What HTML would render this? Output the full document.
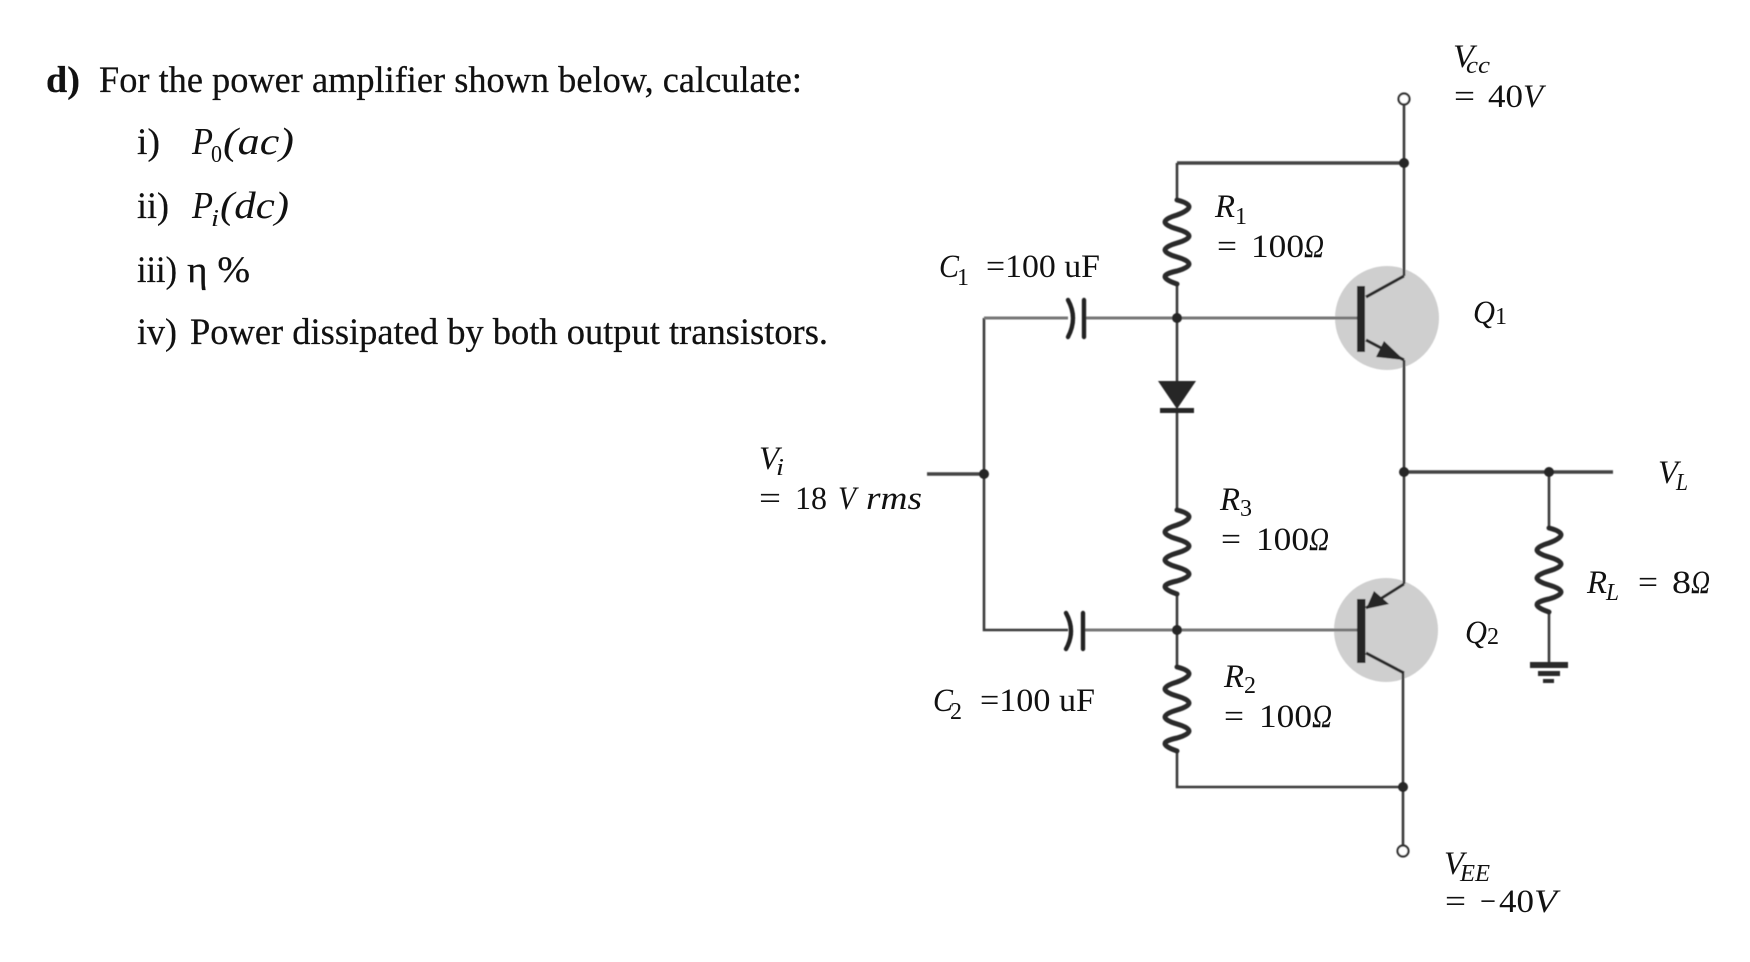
<!DOCTYPE html>
<html><head><meta charset="utf-8"><title>Power amplifier</title>
<style>
html,body{margin:0;padding:0;background:#fff}
svg{display:block}
text{font-family:"Liberation Serif",serif;fill:#111}
.t{font-size:37px;stroke:#111;stroke-width:.25}
.mm{font-size:38px;font-style:italic}
.m{font-size:33px;font-style:italic}
.n{font-size:33px}
.s{font-size:24px;font-style:italic}
.d{font-size:24px}
.w{fill:none;stroke:#3a3a3a;stroke-width:2.6}
.th{fill:none;stroke:#444;stroke-width:3.4}
</style></head>
<body>
<svg width="1750" height="962" viewBox="0 0 1750 962" xmlns="http://www.w3.org/2000/svg">
<defs>
<filter id="b"><feGaussianBlur stdDeviation="0.45"/></filter>
<path id="res" d="M0 0 Q24 6 0 15 Q-24 22 0 29 Q24 36 0 43 Q-24 50 0 57 Q24 64 0 71 Q-24 76 0 84" fill="none" stroke="#2a2a2a" stroke-width="5" stroke-linecap="round" stroke-linejoin="round"/>
</defs>

<!-- question text -->
<text x="46" y="92" class="t" font-weight="bold" textLength="34" lengthAdjust="spacingAndGlyphs">d)</text>
<text x="99" y="92" class="t" textLength="703" lengthAdjust="spacingAndGlyphs">For the power amplifier shown below, calculate:</text>
<text x="137" y="154" class="t" textLength="23" lengthAdjust="spacingAndGlyphs">i)</text>
<text x="192" y="154" class="mm" textLength="21" lengthAdjust="spacingAndGlyphs">P</text>
<text x="211" y="162" class="d" textLength="11" lengthAdjust="spacingAndGlyphs">0</text>
<text x="223" y="154" class="mm" textLength="71" lengthAdjust="spacingAndGlyphs">(ac)</text>
<text x="137" y="218" class="t" textLength="32" lengthAdjust="spacingAndGlyphs">ii)</text>
<text x="192" y="218" class="mm" textLength="21" lengthAdjust="spacingAndGlyphs">P</text>
<text x="211" y="226" class="s" textLength="8" lengthAdjust="spacingAndGlyphs">i</text>
<text x="220" y="218" class="mm" textLength="69" lengthAdjust="spacingAndGlyphs">(dc)</text>
<text x="137" y="282" class="t" textLength="40" lengthAdjust="spacingAndGlyphs">iii)</text>
<text x="187" y="282" class="t" textLength="63" lengthAdjust="spacingAndGlyphs">η %</text>
<text x="137" y="344" class="t" textLength="40" lengthAdjust="spacingAndGlyphs">iv)</text>
<text x="190" y="344" class="t" textLength="638" lengthAdjust="spacingAndGlyphs">Power dissipated by both output transistors.</text>

<!-- circuit -->
<g filter="url(#b)">
<ellipse cx="1387" cy="318" rx="52" ry="52" fill="#cfcfcf"/>
<ellipse cx="1386" cy="630" rx="52" ry="52" fill="#cfcfcf"/>

<!-- rails -->
<circle cx="1404" cy="99" r="5.5" fill="#fff" stroke="#333" stroke-width="2.2"/>
<path class="w" d="M1404 105V276M1404 360V584M1403 673V845"/>
<circle cx="1403" cy="851" r="5.5" fill="#fff" stroke="#333" stroke-width="2.2"/>
<path class="th" d="M1177 163H1404M1404 472H1613"/>
<path class="w" d="M1177 163V200M1177 282V381M1177 413V510M1177 594V667M1177 751V787H1403"/>
<path class="w" d="M1549 472V528M1549 612V662"/>
<path class="th" d="M927 474H984"/>
<path class="w" d="M984 318V630H1068"/>
<path d="M984 318H1068M1086 318H1358M1084 630H1358" fill="none" stroke="#777" stroke-width="3"/>

<!-- capacitors -->
<g fill="none" stroke="#222" stroke-width="4.4" stroke-linecap="round">
<path d="M1068 300Q1078 318 1068 337M1084 300V337"/>
<path d="M1066 613Q1076 631 1066 649M1083 613V649"/>
</g>

<!-- resistors -->
<use href="#res" x="1177" y="200"/>
<use href="#res" x="1177" y="510"/>
<use href="#res" x="1177" y="667"/>
<use href="#res" x="1549" y="528"/>

<!-- diode -->
<polygon points="1158,381 1196,381 1177,409" fill="#262626"/>
<rect x="1160" y="408" width="34" height="5" fill="#262626"/>

<!-- Q1 -->
<rect x="1357" y="286" width="8" height="66" fill="#262626"/>
<path d="M1366 297L1404 276M1366 340L1404 360" fill="none" stroke="#2a2a2a" stroke-width="3"/>
<polygon points="1404,360 1384,341 1376,357" fill="#262626"/>
<!-- Q2 -->
<rect x="1357" y="599" width="8.5" height="64" fill="#262626"/>
<path d="M1366 608L1404 584M1366 653L1404 673" fill="none" stroke="#2a2a2a" stroke-width="3"/>
<polygon points="1366,609 1374,591 1389,604" fill="#262626"/>

<!-- ground -->
<rect x="1530" y="662" width="38" height="6" fill="#2a2a2a"/>
<rect x="1538" y="671" width="22" height="5" fill="#2a2a2a"/>
<rect x="1543" y="679" width="11" height="4" fill="#2a2a2a"/>

<!-- junctions -->
<g fill="#262626">
<circle cx="1404" cy="163" r="5"/>
<circle cx="1177" cy="318" r="5"/>
<circle cx="984" cy="474" r="5"/>
<circle cx="1404" cy="472" r="5"/>
<circle cx="1549" cy="472" r="5"/>
<circle cx="1177" cy="630" r="5"/>
<circle cx="1403" cy="787" r="5"/>
</g>
</g>

<!-- labels -->
<text x="1453" y="67" class="m" textLength="21" lengthAdjust="spacingAndGlyphs">V</text>
<text x="1466" y="73" class="s" textLength="24" lengthAdjust="spacingAndGlyphs">cc</text>
<text x="1454" y="107" class="n" textLength="21" lengthAdjust="spacingAndGlyphs">=</text>
<text x="1488" y="107" class="n" textLength="35" lengthAdjust="spacingAndGlyphs">40</text>
<text x="1523" y="107" class="m" textLength="20" lengthAdjust="spacingAndGlyphs">V</text>

<text x="1215" y="217" class="m" textLength="20" lengthAdjust="spacingAndGlyphs">R</text>
<text x="1235" y="224" class="d" textLength="12" lengthAdjust="spacingAndGlyphs">1</text>
<text x="1217" y="257" class="n" textLength="20" lengthAdjust="spacingAndGlyphs">=</text>
<text x="1251" y="257" class="n" textLength="53" lengthAdjust="spacingAndGlyphs">100</text>
<text x="1304" y="257" class="m" textLength="20" lengthAdjust="spacingAndGlyphs">Ω</text>

<text x="939" y="277" class="m" textLength="20" lengthAdjust="spacingAndGlyphs">C</text>
<text x="957" y="285" class="d" textLength="12" lengthAdjust="spacingAndGlyphs">1</text>
<text x="986" y="277" class="n" textLength="114" lengthAdjust="spacingAndGlyphs">=100 uF</text>

<text x="1473" y="323" class="m" textLength="22" lengthAdjust="spacingAndGlyphs">Q</text>
<text x="1495" y="324" class="d" textLength="12" lengthAdjust="spacingAndGlyphs">1</text>

<text x="759" y="469" class="m" textLength="20" lengthAdjust="spacingAndGlyphs">V</text>
<text x="776" y="475" class="s" textLength="8" lengthAdjust="spacingAndGlyphs">i</text>
<text x="759" y="509" class="n" textLength="22" lengthAdjust="spacingAndGlyphs">=</text>
<text x="795" y="509" class="n" textLength="32" lengthAdjust="spacingAndGlyphs">18</text>
<text x="838" y="509" class="m" textLength="18" lengthAdjust="spacingAndGlyphs">V</text>
<text x="866" y="509" class="m" textLength="56" lengthAdjust="spacingAndGlyphs">rms</text>

<text x="1658" y="483" class="m" textLength="20" lengthAdjust="spacingAndGlyphs">V</text>
<text x="1676" y="490" class="s" textLength="12" lengthAdjust="spacingAndGlyphs">L</text>

<text x="1220" y="510" class="m" textLength="20" lengthAdjust="spacingAndGlyphs">R</text>
<text x="1240" y="516" class="d" textLength="12" lengthAdjust="spacingAndGlyphs">3</text>
<text x="1221" y="550" class="n" textLength="20" lengthAdjust="spacingAndGlyphs">=</text>
<text x="1256" y="550" class="n" textLength="53" lengthAdjust="spacingAndGlyphs">100</text>
<text x="1309" y="550" class="m" textLength="20" lengthAdjust="spacingAndGlyphs">Ω</text>

<text x="1587" y="593" class="m" textLength="20" lengthAdjust="spacingAndGlyphs">R</text>
<text x="1606" y="600" class="s" textLength="13" lengthAdjust="spacingAndGlyphs">L</text>
<text x="1638" y="593" class="n" textLength="20" lengthAdjust="spacingAndGlyphs">=</text>
<text x="1672" y="593" class="n" textLength="19" lengthAdjust="spacingAndGlyphs">8</text>
<text x="1691" y="593" class="m" textLength="19" lengthAdjust="spacingAndGlyphs">Ω</text>

<text x="1465" y="643" class="m" textLength="22" lengthAdjust="spacingAndGlyphs">Q</text>
<text x="1487" y="644" class="d" textLength="12" lengthAdjust="spacingAndGlyphs">2</text>

<text x="1224" y="687" class="m" textLength="20" lengthAdjust="spacingAndGlyphs">R</text>
<text x="1244" y="693" class="d" textLength="12" lengthAdjust="spacingAndGlyphs">2</text>
<text x="1224" y="727" class="n" textLength="20" lengthAdjust="spacingAndGlyphs">=</text>
<text x="1259" y="727" class="n" textLength="53" lengthAdjust="spacingAndGlyphs">100</text>
<text x="1312" y="727" class="m" textLength="20" lengthAdjust="spacingAndGlyphs">Ω</text>

<text x="933" y="711" class="m" textLength="20" lengthAdjust="spacingAndGlyphs">C</text>
<text x="950" y="719" class="d" textLength="12" lengthAdjust="spacingAndGlyphs">2</text>
<text x="980" y="711" class="n" textLength="115" lengthAdjust="spacingAndGlyphs">=100 uF</text>

<text x="1444" y="874" class="m" textLength="20" lengthAdjust="spacingAndGlyphs">V</text>
<text x="1460" y="881" class="s" textLength="30" lengthAdjust="spacingAndGlyphs">EE</text>
<text x="1445" y="912" class="n" textLength="21" lengthAdjust="spacingAndGlyphs">=</text>
<text x="1480" y="912" class="n" textLength="16" lengthAdjust="spacingAndGlyphs">−</text>
<text x="1499" y="912" class="n" textLength="35" lengthAdjust="spacingAndGlyphs">40</text>
<text x="1534" y="912" class="m" textLength="23" lengthAdjust="spacingAndGlyphs">V</text>
</svg>
</body></html>
